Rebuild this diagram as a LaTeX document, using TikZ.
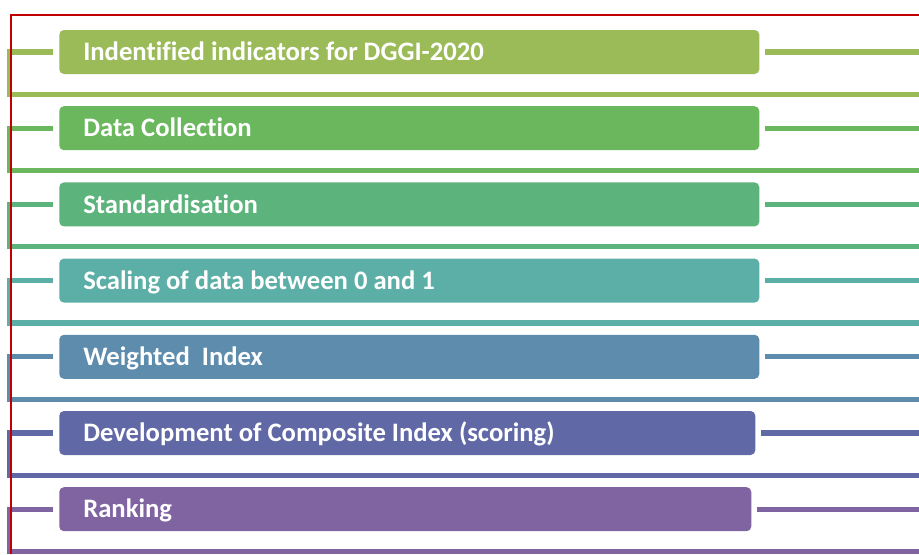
\documentclass[tikz,border=0pt]{standalone}
\usepackage{fontspec}
\setmainfont{Carlito}[Ligatures=NoCommon]
\definecolor{stepA}{HTML}{9BBB59}
\definecolor{stepB}{HTML}{6AB75D}
\definecolor{stepC}{HTML}{5CB37B}
\definecolor{stepD}{HTML}{5CAFA6}
\definecolor{stepE}{HTML}{5E8CAD}
\definecolor{stepF}{HTML}{6168A6}
\definecolor{stepG}{HTML}{8064A2}
\definecolor{frame}{HTML}{C00000}
\tikzset{
    stepbox/.style={rectangle, rounded corners=3.5pt, fill=#1, text=white,
      anchor=west, minimum height=33pt, inner xsep=18pt, inner ysep=0pt,
      align=flush left, text height=15.3pt, text depth=2.4pt,
      font=\fontsize{20pt}{24pt}\selectfont\bfseries},
    rowline/.style={draw=#1, line width=3.9pt, shorten <=4.3pt}
}
\begin{document}
\begin{tikzpicture}[x=0.75pt,y=-0.75pt]
    \useasboundingbox (0,0) rectangle (919,554);
    \node[stepbox=stepA, text width=489pt] (ind) at (59,52) {Indentified indicators for DGGI-2020};
    \node[stepbox=stepB, text width=489pt] (col) at (59,128.2) {Data Collection};
    \node[stepbox=stepC, text width=489pt] (std) at (59,204.4) {Standardisation};
    \node[stepbox=stepD, text width=489pt] (scl) at (59,280.6) {Scaling of data between 0 and 1};
    \node[stepbox=stepE, text width=489pt] (wgt) at (59,356.8) {Weighted\ \ Index};
    \node[stepbox=stepF, text width=486pt] (cmp) at (59,433) {Development of Composite Index (scoring)};
    \node[stepbox=stepG, text width=483pt] (rnk) at (59,509.2) {Ranking};
    \coordinate (indL) at (9.5,52);    \coordinate (indB) at (9.5,94.3);  \coordinate (indE) at (919,94.3);  \coordinate (indR) at (919,52);
    \coordinate (colL) at (9.5,128.2); \coordinate (colB) at (9.5,170.5); \coordinate (colE) at (919,170.5); \coordinate (colR) at (919,128.2);
    \coordinate (stdL) at (9.5,204.4); \coordinate (stdB) at (9.5,246.7); \coordinate (stdE) at (919,246.7); \coordinate (stdR) at (919,204.4);
    \coordinate (sclL) at (9.5,280.6); \coordinate (sclB) at (9.5,322.9); \coordinate (sclE) at (919,322.9); \coordinate (sclR) at (919,280.6);
    \coordinate (wgtL) at (9.5,356.8); \coordinate (wgtB) at (9.5,399.1); \coordinate (wgtE) at (919,399.1); \coordinate (wgtR) at (919,356.8);
    \coordinate (cmpL) at (9.5,433);   \coordinate (cmpB) at (9.5,475.3); \coordinate (cmpE) at (919,475.3); \coordinate (cmpR) at (919,433);
    \coordinate (rnkL) at (9.5,509.2); \coordinate (rnkB) at (9.5,551.5); \coordinate (rnkE) at (919,551.5); \coordinate (rnkR) at (919,509.2);
    \draw [rowline=stepA] (ind.west) -- (indL) -- (indB) -- (indE);
    \draw [rowline=stepA] (ind.east) -- (indR);
    \draw [rowline=stepB] (col.west) -- (colL) -- (colB) -- (colE);
    \draw [rowline=stepB] (col.east) -- (colR);
    \draw [rowline=stepC] (std.west) -- (stdL) -- (stdB) -- (stdE);
    \draw [rowline=stepC] (std.east) -- (stdR);
    \draw [rowline=stepD] (scl.west) -- (sclL) -- (sclB) -- (sclE);
    \draw [rowline=stepD] (scl.east) -- (sclR);
    \draw [rowline=stepE] (wgt.west) -- (wgtL) -- (wgtB) -- (wgtE);
    \draw [rowline=stepE] (wgt.east) -- (wgtR);
    \draw [rowline=stepF] (cmp.west) -- (cmpL) -- (cmpB) -- (cmpE);
    \draw [rowline=stepF] (cmp.east) -- (cmpR);
    \draw [rowline=stepG] (rnk.west) -- (rnkL) -- (rnkB) -- (rnkE);
    \draw [rowline=stepG] (rnk.east) -- (rnkR);
    \draw [frame, line width=1.5pt] (919,15) -- (10.5,15) -- (10.5,554);
\end{tikzpicture}
\end{document}
